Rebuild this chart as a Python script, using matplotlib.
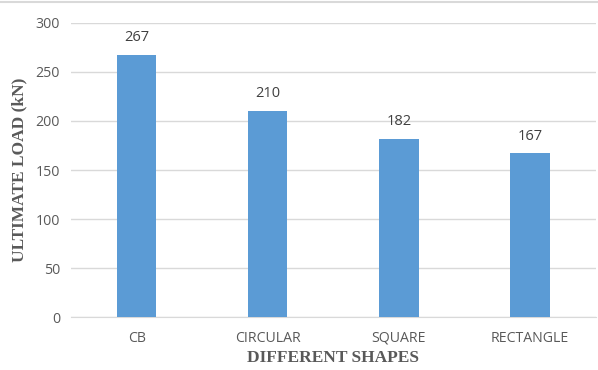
import matplotlib
matplotlib.use('Agg')
import matplotlib.pyplot as plt
from matplotlib.lines import Line2D

shapes = ['CB', 'CIRCULAR', 'SQUARE', 'RECTANGLE']
ultimate_load = [267, 210, 182, 167]

bar_color = '#5B9BD5'
text_gray = '#595959'

fig = plt.figure(figsize=(5.98, 3.70), dpi=100)
ax = fig.add_axes([0.119, 0.143, 0.877, 0.795])

x = range(len(shapes))
bars = ax.bar(x, ultimate_load, width=0.3, color=bar_color, zorder=3)
for b, v in zip(bars, ultimate_load):
    ax.text(b.get_x() + b.get_width() / 2, v + 10, str(v), ha='center', va='bottom',
            fontsize=10.5, color='#404040', family='Open Sans')

ax.set_xlim(-0.5, len(shapes) - 0.5)
ax.set_ylim(0, 300)
ax.set_yticks(range(0, 301, 50))
ax.set_xticks(list(x))
ax.set_xticklabels(shapes)
ax.yaxis.grid(True, color='#D9D9D9', linewidth=1, zorder=0)
for s in ['top', 'right', 'left']:
    ax.spines[s].set_visible(False)
ax.spines['bottom'].set_color('#D9D9D9')
ax.tick_params(axis='y', length=0, labelsize=10.2, colors=text_gray, pad=8)
ax.tick_params(axis='x', length=0, labelsize=10.2, colors=text_gray, pad=10)
for lbl in ax.get_xticklabels() + ax.get_yticklabels():
    lbl.set_family('Open Sans')

ax.set_xlabel('DIFFERENT SHAPES', fontsize=12.5, fontweight='bold', family='Liberation Serif',
              color=text_gray, labelpad=3)
ax.set_ylabel('ULTIMATE LOAD (kN)', fontsize=12.5, fontweight='bold', family='Liberation Serif',
              color=text_gray, labelpad=6)

# thin line along the top edge of the chart
fig.add_artist(Line2D([0, 1], [0.994, 0.994], transform=fig.transFigure,
                      color='#D9D9D9', linewidth=1.5))

fig.savefig('out.png', dpi=100)
